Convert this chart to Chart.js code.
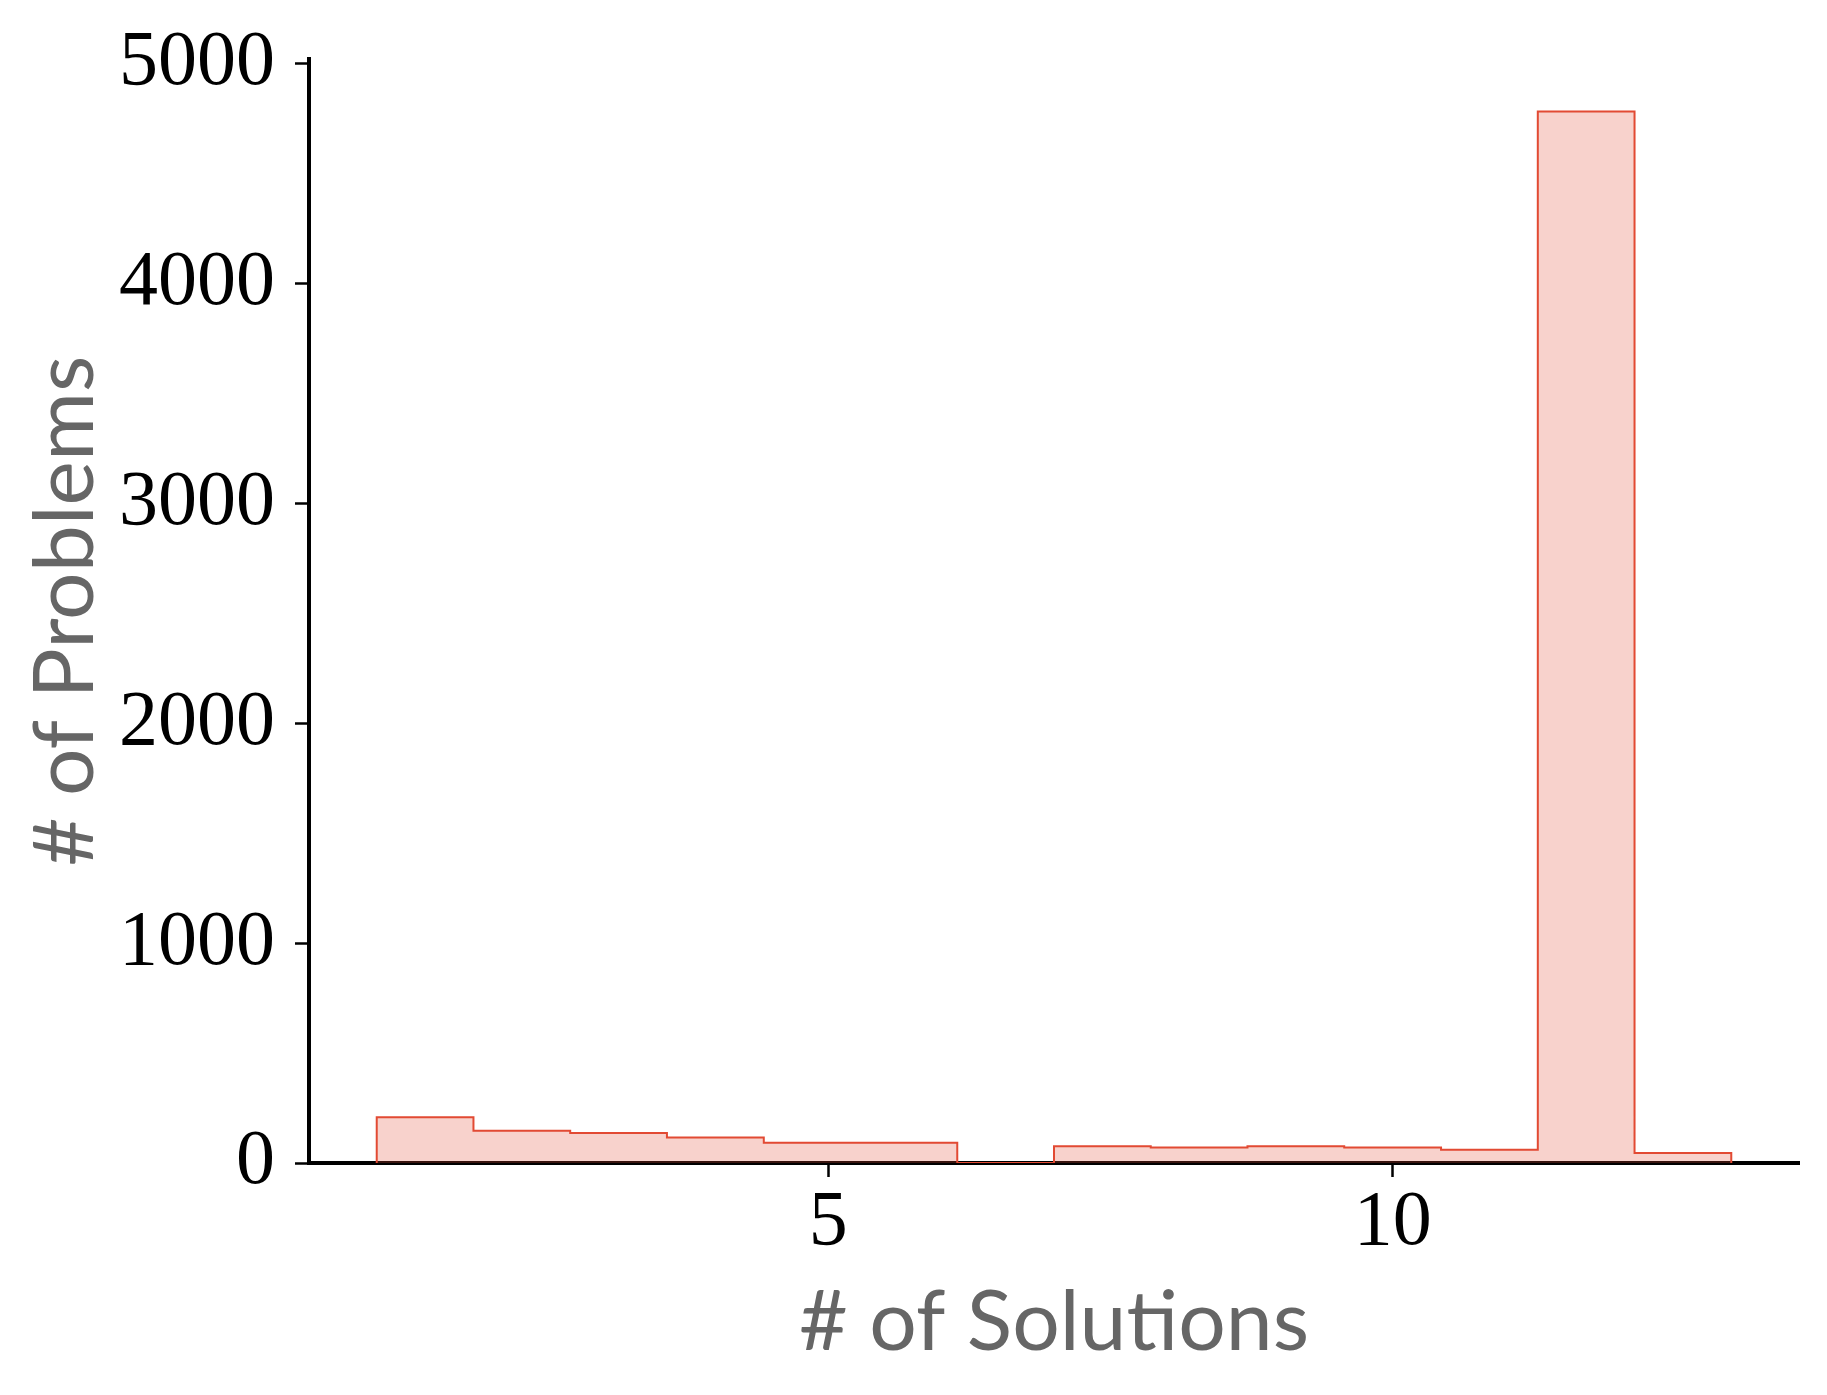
<!DOCTYPE html>
<html>
<head>
<meta charset="utf-8">
<script src="https://cdn.jsdelivr.net/npm/chart.js@4/dist/chart.umd.min.js"></script>
<style>
  html, body { margin: 0; padding: 0; background: #ffffff; }
  #wrap { width: 1827px; height: 1395px; position: relative; }
</style>
</head>
<body>
<div id="wrap"><canvas id="c" width="1827" height="1395"></canvas></div>
<script>
// ---- data ----
const binEdges = [1, 1.857, 2.714, 3.571, 4.429, 5.286, 6.143, 7, 7.857, 8.714, 9.571, 10.429, 11.286, 12.143, 13];
const binCounts = [208, 147, 137, 116, 92, 92, 0, 76, 70, 76, 70, 60, 4783, 45];
const xTickValues = [5, 10];
const yTickValues = [0, 1000, 2000, 3000, 4000, 5000];
const xLabel = '# of Solutions';
const yLabel = '# of Problems';
const xRange = [0.4, 13.6];
const yRange = [0, 5022];

// step outline points built from the bins
const pts = [{x: binEdges[0], y: 0}];
for (let i = 0; i < binCounts.length; i++) pts.push({x: binEdges[i], y: binCounts[i]});
pts.push({x: binEdges[binEdges.length - 1], y: 0});

const serif = '"Liberation Serif", "DejaVu Serif", serif';
const sans = 'Lato, "Open Sans", sans-serif';

new Chart(document.getElementById('c'), {
  type: 'line',
  data: {
    datasets: [{
      data: pts,
      stepped: 'before',
      borderColor: '#E24A33',
      borderWidth: 2,
      backgroundColor: 'rgba(226,74,51,0.25)',
      fill: 'origin',
      pointRadius: 0,
      tension: 0
    }]
  },
  options: {
    responsive: false,
    animation: false,
    devicePixelRatio: 1,
    layout: { padding: { top: 53, right: 28, left: 0, bottom: 0 } },
    plugins: { legend: { display: false }, tooltip: { enabled: false } },
    scales: {
      x: {
        type: 'linear',
        z: 1,
        min: xRange[0], max: xRange[1],
        afterBuildTicks: (s) => { s.ticks = xTickValues.map(v => ({value: v})); },
        afterFit: (s) => { s.height = 1395 - 1163; },
        ticks: { color: '#000', font: { family: serif, size: 78, lineHeight: 1 }, padding: 8, maxRotation: 0, autoSkip: false,
                 callback: (v) => String(v) },
        grid: { drawOnChartArea: false, drawTicks: true, tickLength: 14, tickWidth: 2.5, tickColor: '#000' },
        border: { display: true, color: '#000', width: 4 },
        title: { display: true, text: xLabel, color: '#666666', font: { family: sans, size: 84, lineHeight: 1 }, padding: { top: 0, bottom: 30 } }
      },
      y: {
        type: 'linear',
        z: 1,
        min: yRange[0], max: yRange[1],
        afterBuildTicks: (s) => { s.ticks = yTickValues.map(v => ({value: v})); },
        afterFit: (s) => { s.width = 309; },
        ticks: { color: '#000', font: { family: serif, size: 78, lineHeight: 1 }, padding: 20, autoSkip: false,
                 callback: (v) => String(v) },
        grid: { drawOnChartArea: false, drawTicks: true, tickLength: 14, tickWidth: 2.5, tickColor: '#000' },
        border: { display: true, color: '#000', width: 4 },
        title: { display: true, text: yLabel, color: '#666666', font: { family: sans, size: 84, lineHeight: 1 }, padding: { top: 24, bottom: 0 } }
      }
    }
  }
});
</script>
</body>
</html>
